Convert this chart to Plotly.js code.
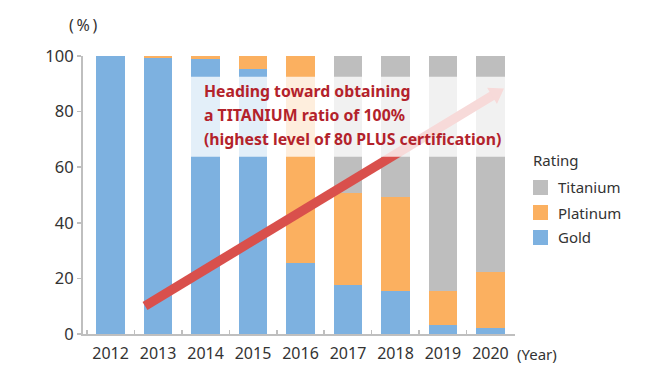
<!DOCTYPE html>
<html>
<head>
<meta charset="utf-8">
<script src="https://cdn.plot.ly/plotly-3.0.1.min.js"></script>
<style>html,body{margin:0;padding:0;background:#fff;}#chart{width:660px;height:370px;}</style>
</head>
<body>
<div id="chart"></div>
<script>
// ---- data ----
const years = ['2012','2013','2014','2015','2016','2017','2018','2019','2020'];
const gold     = [100, 99.3, 98.8, 95.3, 25.4, 17.6, 15.6, 3.1, 2.3];
const platinum = [0, 0.7, 1.2, 4.7, 74.6, 33.0, 33.6, 12.4, 20.0];
const titanium = [0, 0, 0, 0, 0, 49.4, 50.8, 84.5, 77.7];
const seriesNames = ['Gold', 'Platinum', 'Titanium'];
const seriesColors = ['#7db1e0', '#fbb060', '#bebebe'];
const yTicks = [0, 20, 40, 60, 80, 100];
const legendTitle = 'Rating';
const noteLines = ['Heading toward obtaining', 'a TITANIUM ratio of 100%', '(highest level of 80 PLUS certification)'];

// ---- layout helpers ----
const FONT = '"Noto Sans", "DejaVu Sans", sans-serif';
const W = 660, H = 370;
const L = 83, R = 515, T = 56, B = 334;
const px = x => (x - L) / (R - L);
const py = y => (B - y) / (B - T);

const values = [gold, platinum, titanium];
const traces = values.map((v, i) => ({
  type: 'bar', x: years, y: v, name: seriesNames[i],
  marker: {color: seriesColors[i], line: {width: 0}},
  hoverinfo: 'skip', showlegend: false
}));

// arrow geometry (pixels)
const s = [145, 306], tip = [504, 88.5];
const dx = tip[0] - s[0], dy = tip[1] - s[1];
const len = Math.hypot(dx, dy);
const u = [dx / len, dy / len], n = [-u[1], u[0]];
const headLen = 14, headHalf = 9.5;
const base = [tip[0] - headLen * u[0], tip[1] - headLen * u[1]];
const shaftEnd = [tip[0] - (headLen - 3) * u[0], tip[1] - (headLen - 3) * u[1]];
const c1 = [base[0] + headHalf * n[0], base[1] + headHalf * n[1]];
const c2 = [base[0] - headHalf * n[0], base[1] - headHalf * n[1]];
const P = p => px(p[0]) + ',' + py(p[1]);
const arrowColor = '#d9504c';

const shapes = [
  {type: 'line', xref: 'paper', yref: 'paper', layer: 'above',
   x0: px(s[0]), y0: py(s[1]), x1: px(shaftEnd[0]), y1: py(shaftEnd[1]),
   line: {color: arrowColor, width: 9.5}},
  {type: 'path', xref: 'paper', yref: 'paper', layer: 'above',
   path: 'M' + P(tip) + ' L' + P(c1) + ' L' + P(c2) + ' Z',
   fillcolor: arrowColor, line: {width: 0}},
  {type: 'rect', xref: 'paper', yref: 'paper', layer: 'above',
   x0: px(186), x1: px(512), y0: py(156.7), y1: py(76.7),
   fillcolor: 'rgba(255,255,255,0.79)', line: {width: 0}}
];

const annotations = [];
const noteY = [91, 114.5, 138.5];
noteLines.forEach((t, i) => annotations.push({
  xref: 'paper', yref: 'paper', x: px(202), y: py(noteY[i]),
  xanchor: 'left', yanchor: 'middle', showarrow: false, text: t,
  font: {family: FONT, size: 15.8, color: '#b3222b', weight: 'bold'}
}));
annotations.push({xref: 'paper', yref: 'paper', x: px(67), y: py(24.5), xanchor: 'left', yanchor: 'middle',
  showarrow: false, text: '(\u2009%\u2009)', font: {family: FONT, size: 16, color: '#333'}});
annotations.push({xref: 'paper', yref: 'paper', x: px(515), y: py(353.5), xanchor: 'left', yanchor: 'middle',
  showarrow: false, text: '(Year)', font: {family: FONT, size: 15, color: '#333'}});

// manual legend (top to bottom: Titanium, Platinum, Gold)
annotations.push({xref: 'paper', yref: 'paper', x: px(531), y: py(160), xanchor: 'left', yanchor: 'middle',
  showarrow: false, text: legendTitle, font: {family: FONT, size: 15, color: '#333'}});
[2, 1, 0].forEach((k, j) => {
  const cy = 187.5 + 25 * j;
  shapes.push({type: 'rect', xref: 'paper', yref: 'paper', layer: 'above',
    x0: px(533), x1: px(548), y0: py(cy + 7.5), y1: py(cy - 7.5),
    fillcolor: seriesColors[k], line: {width: 0}});
  annotations.push({xref: 'paper', yref: 'paper', x: px(556), y: py(cy), xanchor: 'left', yanchor: 'middle',
    showarrow: false, text: seriesNames[k], font: {family: FONT, size: 15, color: '#333'}});
});

const layout = {
  width: W, height: H,
  margin: {l: L, r: W - R, t: T, b: H - B, pad: 0},
  paper_bgcolor: '#fff', plot_bgcolor: '#fff',
  barmode: 'stack', bargap: 0.405,
  showlegend: false,
  font: {family: FONT, size: 15, color: '#333'},
  xaxis: {
    type: 'category', range: [-0.58, 8.517], fixedrange: true,
    showline: true, linecolor: '#bfbfbf', linewidth: 2,
    ticks: 'inside', tickson: 'boundaries', ticklen: 4, tickcolor: '#bfbfbf', tickwidth: 1.5,
    showgrid: false, zeroline: false, ticklabelstandoff: 4,
    tickfont: {family: FONT, size: 16, color: '#333'}
  },
  yaxis: {
    range: [0, 100], fixedrange: true, tickvals: yTicks,
    showline: true, linecolor: '#bfbfbf', linewidth: 2,
    ticks: 'outside', ticklen: 4, tickcolor: '#bfbfbf', tickwidth: 1.5,
    showgrid: false, zeroline: false,
    tickfont: {family: FONT, size: 16.5, color: '#333'}
  },
  shapes: shapes,
  annotations: annotations
};

Plotly.newPlot('chart', traces, layout, {staticPlot: true, displayModeBar: false});
</script>
</body>
</html>
